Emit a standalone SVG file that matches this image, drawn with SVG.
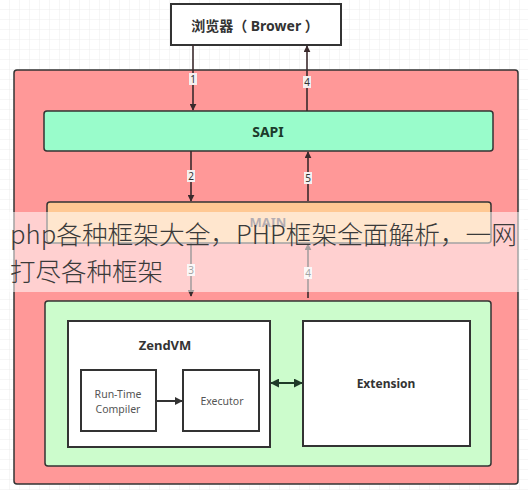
<svg xmlns="http://www.w3.org/2000/svg" width="528" height="490" viewBox="0 0 528 490">
  <defs>
    <pattern id="grid" width="10" height="10" patternUnits="userSpaceOnUse">
      <path d="M10 0 V10 M0 10 H10" fill="none" stroke="#ececec" stroke-width="1"/>
    </pattern>
    <marker id="ah" viewBox="0 0 10 10" refX="9" refY="5" markerWidth="7" markerHeight="7" markerUnits="userSpaceOnUse" orient="auto">
      <path d="M0 0 L10 5 L0 10 z" fill="#3a2a2c"/>
    </marker>
    <marker id="ahg" viewBox="0 0 10 10" refX="9" refY="5" markerWidth="9" markerHeight="9" markerUnits="userSpaceOnUse" orient="auto-start-reverse">
      <path d="M0 0 L10 5 L0 10 z" fill="#1f3a28"/>
    </marker>
    <marker id="ahd" viewBox="0 0 10 10" refX="9" refY="5" markerWidth="8" markerHeight="8" markerUnits="userSpaceOnUse" orient="auto">
      <path d="M0 0 L10 5 L0 10 z" fill="#333"/>
    </marker>
    <style>
      .box { stroke: #333; stroke-width: 1.5; }
      .wbox { fill: #fff; stroke: #333; stroke-width: 2; }
      .b { font-family: "Noto Sans", "Open Sans", "Noto Sans CJK SC", sans-serif; font-weight: bold; text-anchor: middle; dominant-baseline: central; }
      .r { font-family: "Noto Sans", "Open Sans", sans-serif; font-size: 10.5px; fill: #555; text-anchor: middle; dominant-baseline: central; }
      .flow { stroke: #3a2a2c; stroke-width: 1.6; fill: none; marker-end: url(#ah); }
      .lbl { font-family: "Noto Sans", sans-serif; font-size: 10px; fill: #333; text-anchor: middle; dominant-baseline: central; }
      .lblbg { fill: #f4f0f0; }
      .ban { font-family: "Noto Sans CJK SC", "Noto Sans", sans-serif; font-size: 25.5px; font-weight: 300; fill: #3a3a3a; }
    </style>
  </defs>
  <rect width="528" height="490" fill="#fff"/>
  <rect width="528" height="490" fill="url(#grid)"/>

  <g id="browser">
    <rect x="171" y="4" width="170" height="41" fill="#fff" stroke="#333" stroke-width="2"/>
    <text class="b" x="255" y="25" font-size="14" fill="#333">浏览器（ Brower ）</text>
  </g>

  <g id="php">
    <rect class="box" x="14" y="70" width="504" height="414" rx="3" fill="#ff9898"/>
  </g>

  <g id="sapi">
    <rect class="box" x="44" y="111" width="449" height="40" rx="3" fill="#99fccb"/>
    <text class="b" x="268" y="131" font-size="14" fill="#1b3b2b">SAPI</text>
  </g>

  <g id="main">
    <rect class="box" x="47" y="202" width="444" height="41" rx="3" fill="#ffc893"/>
    <text class="b" x="268" y="222" font-size="13" fill="#5a4a55">MAIN</text>
  </g>

  <g id="core">
    <rect class="box" x="45" y="301" width="446" height="165" rx="3" fill="#ccfccc"/>
  </g>

  <g id="zendvm">
    <rect class="wbox" x="68" y="321" width="202" height="126"/>
    <text class="b" x="165" y="345" font-size="13" fill="#333">ZendVM</text>
  </g>

  <g id="compiler">
    <rect class="wbox" x="81" y="370" width="75" height="61"/>
    <text class="r" x="118" y="394">Run-Time</text>
    <text class="r" x="118" y="408.5">Compiler</text>
  </g>

  <g id="executor">
    <rect class="wbox" x="183" y="370" width="76" height="61"/>
    <text class="r" x="222" y="401">Executor</text>
  </g>

  <g id="extension">
    <rect class="wbox" x="303" y="321" width="167" height="125"/>
    <text class="b" x="386" y="383" font-size="12" fill="#333">Extension</text>
  </g>

  <g id="connectors">
    <line class="flow" x1="193" y1="45" x2="193" y2="110"/>
    <rect class="lblbg" x="189" y="73" width="8" height="12"/>
    <text class="lbl" x="193" y="79">1</text>

    <line class="flow" x1="307" y1="111" x2="307" y2="46"/>
    <rect class="lblbg" x="303" y="76" width="8" height="12"/>
    <text class="lbl" x="307" y="82">4</text>

    <line class="flow" x1="191" y1="151" x2="191" y2="201"/>
    <rect class="lblbg" x="187" y="170" width="8" height="12"/>
    <text class="lbl" x="191" y="176">2</text>

    <line class="flow" x1="308" y1="201" x2="308" y2="152"/>
    <rect class="lblbg" x="304" y="172" width="8" height="12"/>
    <text class="lbl" x="308" y="178">5</text>

    <line class="flow" x1="191" y1="243" x2="191" y2="296"/>
    <rect class="lblbg" x="187" y="264" width="8" height="12"/>
    <text class="lbl" x="191" y="270">3</text>

    <line class="flow" x1="308" y1="298" x2="308" y2="244"/>
    <rect class="lblbg" x="304" y="267" width="8" height="12"/>
    <text class="lbl" x="308" y="273">4</text>

    <line x1="156" y1="401" x2="182" y2="401" stroke="#333" stroke-width="2" marker-end="url(#ahd)"/>
    <line x1="271" y1="383" x2="302" y2="383" stroke="#1f3a28" stroke-width="2" marker-start="url(#ahg)" marker-end="url(#ahg)"/>
  </g>

  <g id="banner">
    <rect x="0" y="212" width="524" height="80" fill="#ffffff" fill-opacity="0.55"/>
    <text class="ban" x="10" y="244" textLength="507" lengthAdjust="spacingAndGlyphs">php各种框架大全，PHP框架全面解析，一网</text>
    <text class="ban" x="10" y="281">打尽各种框架</text>
  </g>
</svg>
